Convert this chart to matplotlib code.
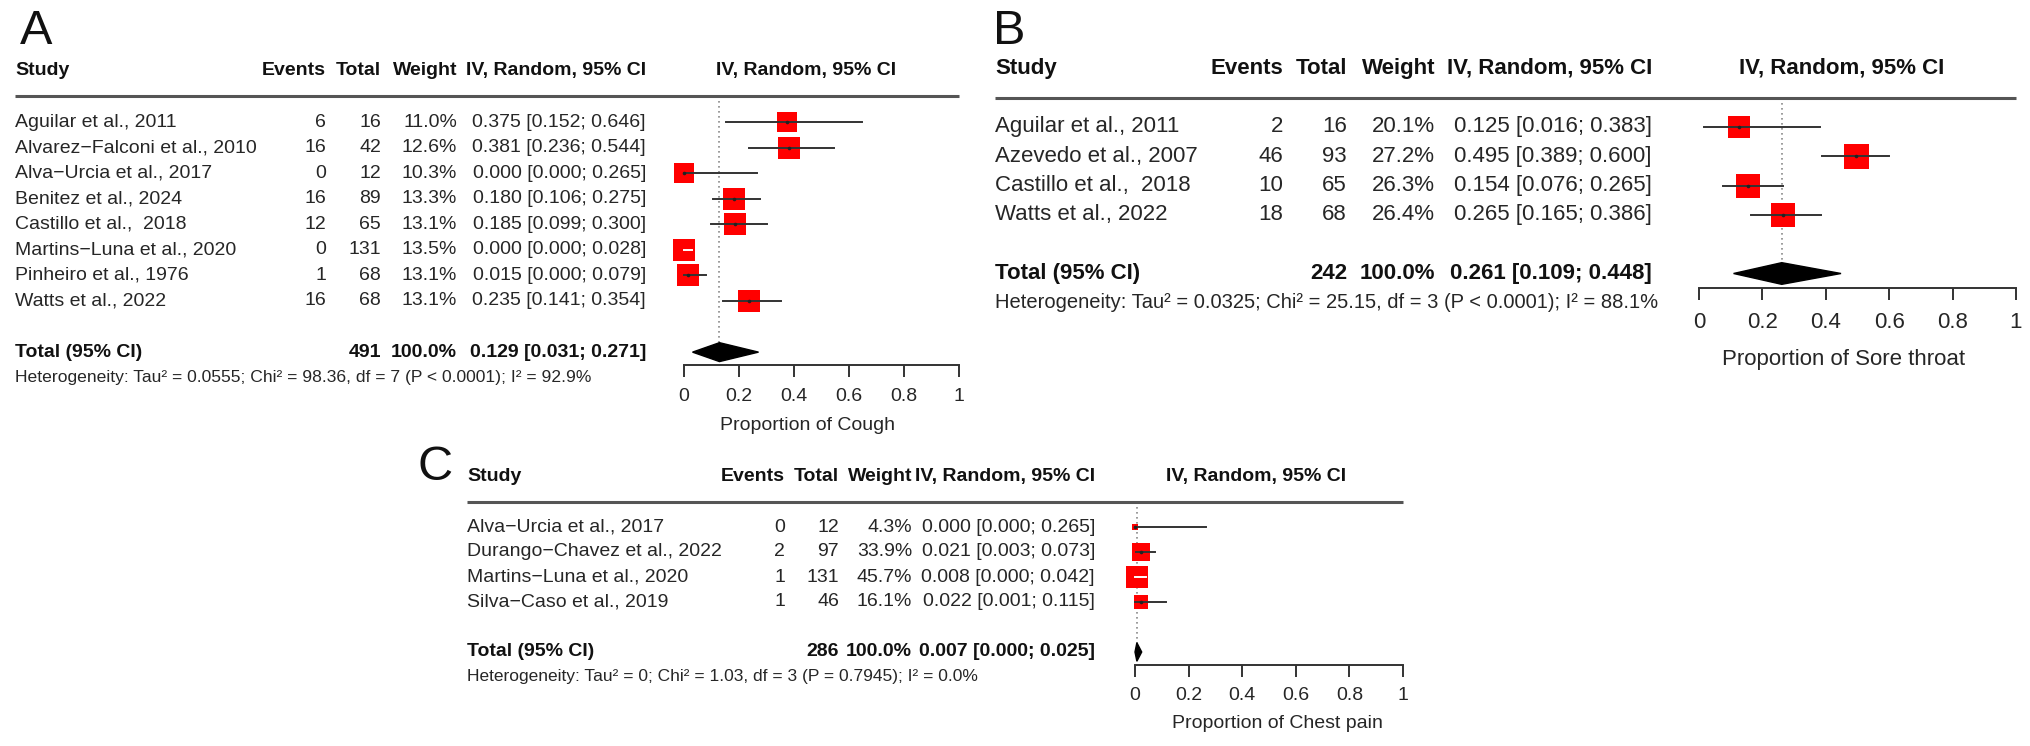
import numpy as np
import matplotlib
matplotlib.use('Agg')
import matplotlib.pyplot as plt
from matplotlib import transforms
from matplotlib.patches import Polygon

plt.rcParams['font.family'] = ['Liberation Sans', 'DejaVu Sans']

# ---- panel A : cough
studies_a = ["Aguilar et al., 2011", "Alvarez\u2212Falconi et al., 2010", "Alva\u2212Urcia et al., 2017",
             "Benitez et al., 2024", "Castillo et al.,  2018", "Martins\u2212Luna et al., 2020",
             "Pinheiro et al., 1976", "Watts et al., 2022"]
events_a = [6, 16, 0, 16, 12, 0, 1, 16]
totals_a = [16, 42, 12, 89, 65, 131, 68, 68]
weights_a = [11.0, 12.6, 10.3, 13.3, 13.1, 13.5, 13.1, 13.1]
est_a = [0.375, 0.381, 0.000, 0.180, 0.185, 0.000, 0.015, 0.235]
lo_a = [0.152, 0.236, 0.000, 0.106, 0.099, 0.000, 0.000, 0.141]
hi_a = [0.646, 0.544, 0.265, 0.275, 0.300, 0.028, 0.079, 0.354]
pooled_a = [0.129, 0.031, 0.271]
n_a = 491
het_a = "Heterogeneity: Tau\u00b2 = 0.0555; Chi\u00b2 = 98.36, df = 7 (P < 0.0001); I\u00b2 = 92.9%"

# ---- panel B : sore throat
studies_b = ["Aguilar et al., 2011", "Azevedo et al., 2007", "Castillo et al.,  2018", "Watts et al., 2022"]
events_b = [2, 46, 10, 18]
totals_b = [16, 93, 65, 68]
weights_b = [20.1, 27.2, 26.3, 26.4]
est_b = [0.125, 0.495, 0.154, 0.265]
lo_b = [0.016, 0.389, 0.076, 0.165]
hi_b = [0.383, 0.600, 0.265, 0.386]
pooled_b = [0.261, 0.109, 0.448]
n_b = 242
het_b = "Heterogeneity: Tau\u00b2 = 0.0325; Chi\u00b2 = 25.15, df = 3 (P < 0.0001); I\u00b2 = 88.1%"

# ---- panel C : chest pain
studies_c = ["Alva\u2212Urcia et al., 2017", "Durango\u2212Chavez et al., 2022",
             "Martins\u2212Luna et al., 2020", "Silva\u2212Caso et al., 2019"]
events_c = [0, 2, 1, 1]
totals_c = [12, 97, 131, 46]
weights_c = [4.3, 33.9, 45.7, 16.1]
est_c = [0.000, 0.021, 0.008, 0.022]
lo_c = [0.000, 0.003, 0.000, 0.001]
hi_c = [0.265, 0.073, 0.042, 0.115]
pooled_c = [0.007, 0.000, 0.025]
n_c = 286
het_c = "Heterogeneity: Tau\u00b2 = 0; Chi\u00b2 = 1.03, df = 3 (P = 0.7945); I\u00b2 = 0.0%"

ticks = [0, 0.2, 0.4, 0.6, 0.8, 1]
tick_labels = ["0", "0.2", "0.4", "0.6", "0.8", "1"]

W, H = 2031, 746
TXT = '#262626'
fig = plt.figure(figsize=(W / 100, H / 100), dpi=100)


def draw_panel(letter, studies, events, totals, weights, est, lo, hi,
               n_total, pooled, het, xlabel, lay):
    k = len(studies)
    tot_row = k + 1
    row0, sp = lay['row0'], lay['sp']
    ytop = row0 - sp
    ybot = row0 + (tot_row + 0.5) * sp
    x0, x1 = lay['ax0'], lay['ax1']
    ax = fig.add_axes([x0 / W, 1 - ybot / H, (x1 - x0) / W, (ybot - ytop) / H])
    ax.patch.set_visible(False)
    ax.set_xlim(0, 1)
    ax.set_ylim(tot_row + 0.5, -1)
    ax.set_yticks([])
    for s in ['left', 'top', 'right']:
        ax.spines[s].set_visible(False)
    ax.spines['bottom'].set_color('#333333')
    ax.spines['bottom'].set_linewidth(1.4)
    ax.set_xticks(ticks)
    ax.set_xticklabels(tick_labels)
    ax.tick_params(axis='x', direction='out', length=8.5, width=1.4, color='#333333',
                   labelsize=lay['fs'], labelcolor=TXT, pad=lay['pad'])

    fs, hfs = lay['fs'], lay['hfs']
    tr = transforms.blended_transform_factory(fig.transFigure, ax.transData)

    def col(px, row, s, ha='left', bold=False, size=None):
        ax.text(px / W, row, s, transform=tr, ha=ha, va='center', clip_on=False,
                fontsize=size or fs, fontweight='bold' if bold else 'normal',
                color='#111111' if bold else TXT)

    # header
    col(lay['study'], -2, "Study", bold=True)
    col(lay['ev'], -2, "Events", ha='right', bold=True)
    col(lay['tot'], -2, "Total", ha='right', bold=True)
    col(lay['wt'], -2, "Weight", ha='right', bold=True)
    col(lay['ci'], -2, "IV, Random, 95% CI", ha='right', bold=True)
    ax.text(lay['hx'], -2, "IV, Random, 95% CI", ha='center', va='center',
            fontsize=fs, fontweight='bold', color='#111111', clip_on=False)
    ax.plot([lay['study'] / W, x1 / W], [-1, -1], transform=tr, clip_on=False,
            color='#555555', lw=2.2, solid_capstyle='butt')

    # study rows
    axis_px = x1 - x0
    wmax = max(weights)
    for i in range(k):
        col(lay['study'], i, studies[i])
        col(lay['ev'], i, str(events[i]), ha='right')
        col(lay['tot'], i, str(totals[i]), ha='right')
        col(lay['wt'], i, "%.1f%%" % weights[i], ha='right')
        col(lay['ci'], i, "%.3f [%.3f; %.3f]" % (est[i], lo[i], hi[i]), ha='right')
        side = lay['sq'] * np.sqrt(weights[i] / wmax)
        ax.plot(est[i], i, marker='s', ms=side * 0.72, color='#ff0000', mew=0,
                clip_on=False, zorder=3)
        half = side / 2 / axis_px
        inside = (lo[i] >= est[i] - half) and (hi[i] <= est[i] + half)
        lc = 'white' if inside else '#333333'
        ax.plot([lo[i], hi[i]], [i, i], color=lc, lw=1.4, clip_on=False, zorder=4)
        if not inside:
            ax.plot(est[i], i, marker='o', ms=2.6, color='#222222', mew=0,
                    clip_on=False, zorder=5)

    # total row
    col(lay['study'], tot_row, "Total (95% CI)", bold=True)
    col(lay['tot'], tot_row, str(n_total), ha='right', bold=True)
    col(lay['wt'], tot_row, "100.0%", ha='right', bold=True)
    col(lay['ci'], tot_row, "%.3f [%.3f; %.3f]" % tuple(pooled), ha='right', bold=True)
    col(lay['study'], tot_row + 1, het, size=hfs)

    h = 0.37
    p, plo, phi = pooled
    ax.add_patch(Polygon([[plo, tot_row], [p, tot_row - h], [phi, tot_row], [p, tot_row + h]],
                         closed=True, color='black', clip_on=False, zorder=3))
    ax.plot([p, p], [-1, tot_row - h], color='#8a8a8a', lw=1.2, ls=(0, (1, 2)), zorder=1)

    # axis title
    ax.text(lay['lx'], lay['lrow'], xlabel, ha='center', va='center', fontsize=fs,
            color=TXT, clip_on=False)
    fig.text(lay['letter'][0] / W, 1 - lay['letter'][1] / H, letter, fontsize=35,
             ha='left', va='center', color='#111111')


lay_a = dict(row0=122, sp=25.57, ax0=684, ax1=959, study=15, ev=326, tot=381, wt=457, ci=646,
             fs=14, hfs=12.6, sq=22, pad=8, hx=0.445, lx=0.45, lrow=11.85, letter=(20, 31))
lay_b = dict(row0=127, sp=29.3, ax0=1699, ax1=2016, study=995, ev=1283, tot=1347, wt=1435, ci=1652,
             fs=16, hfs=14.5, sq=25, pad=9, hx=0.45, lx=0.455, lrow=7.95, letter=(993, 31))
lay_c = dict(row0=527, sp=25.0, ax0=1135, ax1=1403, study=467, ev=785, tot=839, wt=912, ci=1095,
             fs=14, hfs=12.5, sq=22, pad=8, hx=0.45, lx=0.53, lrow=7.85, letter=(418, 468))

draw_panel("A", studies_a, events_a, totals_a, weights_a, est_a, lo_a, hi_a,
           n_a, pooled_a, het_a, "Proportion of Cough", lay_a)
draw_panel("B", studies_b, events_b, totals_b, weights_b, est_b, lo_b, hi_b,
           n_b, pooled_b, het_b, "Proportion of Sore throat", lay_b)
draw_panel("C", studies_c, events_c, totals_c, weights_c, est_c, lo_c, hi_c,
           n_c, pooled_c, het_c, "Proportion of Chest pain", lay_c)

fig.savefig('out.png', dpi=100, facecolor='white')
